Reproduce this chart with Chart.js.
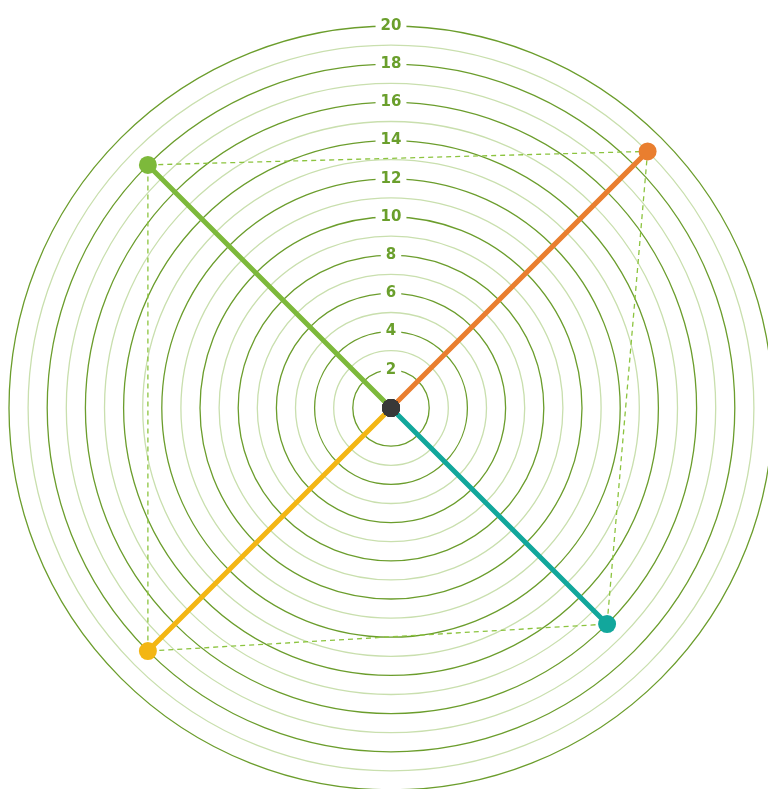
<!DOCTYPE html>
<html>
<head>
<meta charset="utf-8">
<script src="https://cdn.jsdelivr.net/npm/chart.js@4/dist/chart.umd.min.js"></script>
<style>
  html, body { margin: 0; padding: 0; background: #fff; overflow: hidden; }
  #wrap { position: absolute; left: -1px; top: 16px; width: 784px; height: 784px; }
</style>
</head>
<body>
<div id="wrap"><canvas id="radar-chart" width="784" height="784"></canvas></div>
<script>
const COLORS = {
  orange: "#e97e2f",
  teal: "#12a79c",
  yellow: "#f3b614",
  green: "#7db93b",
  dark: "#383838",
  gridDark: "#6b9d2c",
  gridLight: "#c9dfae",
  dash: "#8cc43f",
};

// 8 angular slots so the tick column stays vertical; the 4 axes sit on the diagonals
const labels_radar = ["", "A", "", "B", "", "C", "", "D"];
const values_radar = [null, 19, null, 16, null, 18, null, 18];
const point_colors = [null, COLORS.orange, null, COLORS.teal, null, COLORS.yellow, null, COLORS.green];
const max_value = 20;

// one spoke per axis: value on its own axis, zero on the others
const spokes = [];
values_radar.forEach((v, i) => {
  if (v === null) return;
  spokes.push({
    data: values_radar.map((_, j) => (j === i ? v : 0)),
    borderColor: point_colors[i],
    borderWidth: 5,
    borderCapStyle: "round",
    fill: false,
    pointRadius: 0,
    pointHoverRadius: 0,
  });
});

const data_radar = {
  labels: labels_radar,
  datasets: [
    {
      // center dot
      data: labels_radar.map(() => 0),
      borderWidth: 0,
      showLine: false,
      pointRadius: 9,
      pointBorderWidth: 0,
      pointBackgroundColor: COLORS.dark,
    },
    {
      data: values_radar,
      spanGaps: true,
      borderColor: COLORS.dash,
      borderWidth: 1.3,
      borderDash: [5, 4],
      fill: false,
      pointRadius: 9,
      pointBorderWidth: 0,
      pointBackgroundColor: point_colors.map((c) => c || "rgba(0,0,0,0)"),
    },
    ...spokes,
  ],
};

const config_radar = {
  type: "radar",
  data: data_radar,
  options: {
    responsive: false,
    animation: false,
    elements: { line: { tension: 0 } },
    plugins: {
      legend: { display: false },
      tooltip: { enabled: false },
    },
    scales: {
      r: {
        min: 0,
        max: max_value,
        angleLines: { display: false },
        pointLabels: { display: false },
        grid: {
          circular: true,
          lineWidth: 1.3,
          color: (ctx) => {
            const v = ctx.tick.value;
            if (v === 1) return "rgba(0,0,0,0)";
            return v % 2 === 0 ? COLORS.gridDark : COLORS.gridLight;
          },
        },
        ticks: {
          stepSize: 1,
          color: "#6a9f2c",
          font: { family: "DejaVu Sans", weight: "bold", size: 15 },
          backdropColor: "#fff",
          backdropPadding: { x: 5, y: 2 },
          showLabelBackdrop: (ctx) => ctx.tick.value % 2 === 0,
          callback: (v) => (v % 2 === 0 ? String(v) : ""),
        },
      },
    },
  },
};

var ctx_radar = document.getElementById("radar-chart").getContext("2d");
var myChart_radar = new Chart(ctx_radar, config_radar);
</script>
</body>
</html>
